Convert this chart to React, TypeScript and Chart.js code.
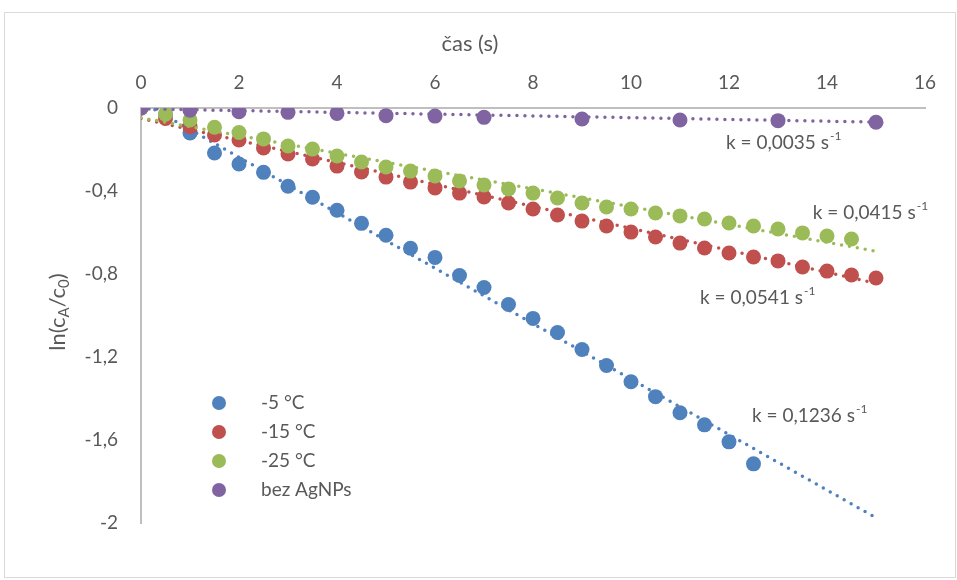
import React, { useEffect, useRef } from "react";
import { Chart, registerables } from "chart.js";
Chart.register(...registerables);

const FONT = "Lato";
const TEXT = "#595959";
const AXIS = "#BFBFBF";

const seriesLabels = ["-5 °C", "-15 °C", "-25 °C", "bez AgNPs"];
const seriesColors = ["#4F81BD", "#C0504D", "#9BBB59", "#8064A2"];

const timeBlue = [0, 0.5, 1, 1.5, 2, 2.5, 3, 3.5, 4, 4.5, 5, 5.5, 6, 6.5, 7, 7.5, 8, 8.5, 9, 9.5, 10, 10.5, 11, 11.5, 12, 12.5];
const valBlue = [0, -0.03, -0.12, -0.217, -0.27, -0.31, -0.377, -0.43, -0.493, -0.556, -0.613, -0.676, -0.72, -0.807, -0.865, -0.947, -1.014, -1.082, -1.164, -1.241, -1.319, -1.391, -1.469, -1.527, -1.609, -1.715];

const timeRed = [0, 0.5, 1, 1.5, 2, 2.5, 3, 3.5, 4, 4.5, 5, 5.5, 6, 6.5, 7, 7.5, 8, 8.5, 9, 9.5, 10, 10.5, 11, 11.5, 12, 12.5, 13, 13.5, 14, 14.5, 15];
const valRed = [0, -0.05, -0.09, -0.13, -0.154, -0.193, -0.222, -0.246, -0.28, -0.308, -0.333, -0.357, -0.385, -0.41, -0.429, -0.458, -0.487, -0.516, -0.545, -0.569, -0.598, -0.622, -0.651, -0.675, -0.699, -0.718, -0.737, -0.766, -0.786, -0.805, -0.819];

const timeGreen = [0, 0.5, 1, 1.5, 2, 2.5, 3, 3.5, 4, 4.5, 5, 5.5, 6, 6.5, 7, 7.5, 8, 8.5, 9, 9.5, 10, 10.5, 11, 11.5, 12, 12.5, 13, 13.5, 14, 14.5];
const valGreen = [0, -0.03, -0.058, -0.093, -0.118, -0.149, -0.183, -0.198, -0.231, -0.26, -0.284, -0.304, -0.328, -0.352, -0.371, -0.39, -0.41, -0.434, -0.458, -0.477, -0.487, -0.506, -0.52, -0.535, -0.554, -0.569, -0.583, -0.602, -0.617, -0.631];

const timePurple = [0, 1, 2, 3, 4, 5, 6, 7, 9, 11, 13, 15];
const valPurple = [0, -0.011, -0.018, -0.021, -0.026, -0.037, -0.039, -0.045, -0.053, -0.058, -0.061, -0.069];

const trendStartX = [0, 0, 0, 0];
const trendStartY = [0.03, -0.05, -0.047, -0.004];
const trendEndX = [15, 15, 15, 15];
const trendEndY = [-1.975, -0.845, -0.69, -0.068];

const kLabels = ["k = 0,1236 s", "k = 0,0541 s", "k = 0,0415 s", "k = 0,0035 s"];
const kSup = "-1";
const kLabelX = [12.47, 11.41, 13.71, 11.94];
const kLabelY = [-1.484, -0.916, -0.506, -0.169];

const xTitle = "čas (s)";
const yTitleParts = [
  { t: "ln(c", sub: false },
  { t: "A", sub: true },
  { t: "/c", sub: false },
  { t: "0", sub: true },
  { t: ")", sub: false },
];

const X_MIN = 0, X_MAX = 16, X_STEP = 2;
const Y_MIN = -2, Y_MAX = 0, Y_STEP = 0.4;

const pts = (xs: number[], ys: number[]) => xs.map((x, i) => ({ x, y: ys[i] }));

const seriesX = [timeBlue, timeRed, timeGreen, timePurple];
const seriesY = [valBlue, valRed, valGreen, valPurple];

const decorPlugin = {
  id: "decor",
  beforeDraw(chart: any) {
    const ctx = chart.ctx;
    ctx.save();
    ctx.fillStyle = "#ffffff";
    ctx.fillRect(0, 0, chart.width, chart.height);
    ctx.strokeStyle = "#D9D9D9";
    ctx.lineWidth = 1;
    ctx.strokeRect(4.5, 12.5, chart.width - 6, chart.height - 15);
    ctx.restore();
  },
  afterDraw(chart: any) {
    const ctx = chart.ctx;
    const xs = chart.scales.x;
    const ys = chart.scales.y;
    const ca = chart.chartArea;
    ctx.save();
    ctx.fillStyle = TEXT;
    ctx.font = `22px ${FONT}`;
    ctx.textAlign = "center";
    ctx.textBaseline = "middle";
    ctx.fillText(xTitle, 470, 44);
    const mainFont = `22px ${FONT}`;
    const subFont = `15px ${FONT}`;
    let total = 0;
    for (const p of yTitleParts) {
      ctx.font = p.sub ? subFont : mainFont;
      total += ctx.measureText(p.t).width;
    }
    ctx.translate(57, 312);
    ctx.rotate(-Math.PI / 2);
    ctx.textAlign = "left";
    ctx.textBaseline = "alphabetic";
    let cx = -total / 2;
    for (const p of yTitleParts) {
      ctx.font = p.sub ? subFont : mainFont;
      ctx.fillText(p.t, cx, p.sub ? 12 : 8);
      cx += ctx.measureText(p.t).width;
    }
    ctx.setTransform(1, 0, 0, 1, 0, 0);
    for (let i = 0; i < kLabels.length; i++) {
      const px = xs.getPixelForValue(kLabelX[i]);
      const py = ys.getPixelForValue(kLabelY[i]);
      ctx.font = `19px ${FONT}`;
      ctx.textAlign = "left";
      ctx.textBaseline = "middle";
      ctx.fillText(kLabels[i], px, py);
      const w = ctx.measureText(kLabels[i]).width;
      ctx.font = `12px ${FONT}`;
      ctx.fillText(kSup, px + w + 1, py - 7);
    }
    const lx = ca.left + 78;
    const ly = 403;
    const rowH = 29;
    for (let i = 0; i < seriesLabels.length; i++) {
      const y = ly + i * rowH;
      ctx.beginPath();
      ctx.fillStyle = seriesColors[i];
      ctx.arc(lx, y, 7, 0, Math.PI * 2);
      ctx.fill();
      ctx.fillStyle = TEXT;
      ctx.font = `19px ${FONT}`;
      ctx.textAlign = "left";
      ctx.textBaseline = "middle";
      ctx.fillText(seriesLabels[i], lx + 42, y);
    }
    ctx.restore();
  },
};

export default function App() {
  const ref = useRef<HTMLCanvasElement | null>(null);
  useEffect(() => {
    document.body.style.margin = "0";
    const canvas = ref.current;
    if (!canvas) return;
    const datasets: any[] = [];
    for (let i = 0; i < 4; i++) {
      datasets.push({
        type: "scatter",
        label: "trend " + seriesLabels[i],
        data: [
          { x: trendStartX[i], y: trendStartY[i] },
          { x: trendEndX[i], y: trendEndY[i] },
        ],
        showLine: true,
        pointRadius: 0,
        borderColor: seriesColors[i],
        borderWidth: 3.5,
        borderDash: [0, 8],
        borderCapStyle: "round",
        fill: false,
        order: 10 - 2 * i,
      });
      datasets.push({
        type: "scatter",
        label: seriesLabels[i],
        data: pts(seriesX[i], seriesY[i]),
        pointRadius: 7.5,
        pointBackgroundColor: seriesColors[i],
        pointBorderColor: seriesColors[i],
        pointBorderWidth: 0,
        showLine: false,
        order: 9 - 2 * i,
      });
    }
    const chart = new Chart(canvas, {
      type: "scatter",
      data: { datasets },
      options: {
        animation: false,
        responsive: false,
        devicePixelRatio: 1,
        events: [],
        layout: { padding: { left: 0, top: 0, right: 32, bottom: 57 } },
        plugins: { legend: { display: false }, tooltip: { enabled: false }, title: { display: false } },
        scales: {
          x: {
            type: "linear",
            position: "top",
            min: X_MIN,
            max: X_MAX,
            grid: { display: false, drawTicks: false },
            border: { display: true, color: AXIS, width: 2 },
            ticks: {
              stepSize: X_STEP,
              padding: 14,
              color: TEXT,
              font: { family: FONT, size: 19 },
              maxRotation: 0,
            },
            afterFit: (s: any) => { s.height = 108; },
          },
          y: {
            type: "linear",
            position: "left",
            min: Y_MIN,
            max: Y_MAX,
            grid: { display: false, drawTicks: false },
            border: { display: true, color: AXIS, width: 2 },
            ticks: {
              stepSize: Y_STEP,
              padding: 23,
              color: TEXT,
              font: { family: FONT, size: 19 },
              callback: (v: any) => String(Number(Number(v).toFixed(1))).replace(".", ","),
            },
            afterFit: (s: any) => { s.width = 141; },
          },
        },
      },
      plugins: [decorPlugin],
    } as any);
    return () => chart.destroy();
  }, []);
  return (
    <div style={{ position: "absolute", left: 0, top: 0, width: 957, height: 580 }}>
      <canvas ref={ref} width={957} height={580} />
    </div>
  );
}
